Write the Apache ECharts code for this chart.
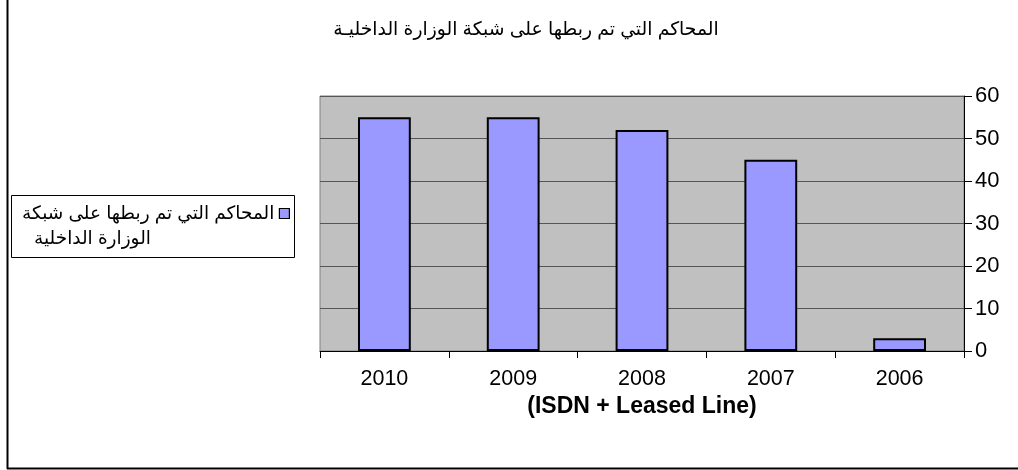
<!DOCTYPE html>
<html><head><meta charset="utf-8">
<script src="https://cdn.jsdelivr.net/npm/echarts@6/dist/echarts.min.js"></script>
<style>html,body{margin:0;padding:0;background:#fff}#c{width:1018px;height:470px}</style>
</head><body><div id="c"></div>
<script>
const titleText = 'المحاكم التي تم ربطها على شبكة الوزارة الداخليـة';
const seriesName = 'المحاكم التي تم ربطها على شبكة الوزارة الداخلية';
const legendLine1 = 'المحاكم التي تم ربطها على شبكة';
const legendLine2 = 'الوزارة الداخلية';
const categories = ['2010', '2009', '2008', '2007', '2006'];
const values = [55, 55, 52, 45, 3];
const xAxisName = '(ISDN + Leased Line)';
const yTicks = [0, 10, 20, 30, 40, 50, 60];

const chart = echarts.init(document.getElementById('c'), null, {renderer: 'canvas'});
const F = 'Arial, "Liberation Sans", "DejaVu Sans", sans-serif';
chart.setOption({
  animation: false,
  backgroundColor: '#fff',
  title: {
    text: titleText, left: 521, top: 15, textAlign: 'center',
    textStyle: {fontFamily: F, fontSize: 18.8, fontWeight: 'normal', color: '#000'}
  },
  legend: {
    orient: 'vertical', right: 728, top: 176, align: 'right', padding: 0,
    itemWidth: 10, itemHeight: 10,
    data: [{name: seriesName, icon: 'rect', itemStyle: {borderColor: '#000', borderWidth: 1.2}}],
    formatter: function () { return '{s| }\n{a|' + legendLine1 + '}\n{b|' + legendLine2 + '}'; },
    textStyle: {
      fontFamily: F, fontSize: 18.5, color: '#000', lineHeight: 25,
      rich: {
        s: {fontSize: 18.5, lineHeight: 25, align: 'left'},
        a: {fontFamily: F, fontSize: 18.5, lineHeight: 25, align: 'left', color: '#000'},
        b: {fontFamily: F, fontSize: 18.5, lineHeight: 25, align: 'left', color: '#000', padding: [0, 0, 0, 12]}
      }
    }
  },
  grid: {left: 320, right: 54, top: 96, bottom: 119, show: true,
    backgroundColor: '#c0c0c0', borderColor: '#808080', borderWidth: 1},
  xAxis: {
    type: 'category', data: categories,
    axisLine: {show: true, lineStyle: {color: '#000'}},
    axisTick: {show: true, length: 7, lineStyle: {color: '#000'}},
    axisLabel: {fontFamily: F, fontSize: 21.5, color: '#000', margin: 17},
    name: xAxisName, nameLocation: 'middle', nameGap: 42,
    nameTextStyle: {fontFamily: F, fontSize: 23, fontWeight: 'bold', color: '#000'}
  },
  yAxis: {
    type: 'value', position: 'right', min: yTicks[0], max: yTicks[yTicks.length - 1], interval: 10,
    axisLine: {show: true, lineStyle: {color: '#000'}},
    axisTick: {show: true, length: 8, lineStyle: {color: '#000'}},
    axisLabel: {fontFamily: F, fontSize: 22, color: '#000', margin: 11},
    splitLine: {show: true, lineStyle: {color: '#555', width: 1}}
  },
  series: [{
    name: seriesName, type: 'bar', data: values, barWidth: '41%',
    itemStyle: {color: '#9999ff', borderColor: '#000', borderWidth: 2}
  }],
  graphic: [
    {type: 'rect', shape: {x: 11.5, y: 195.5, width: 283, height: 62}, style: {fill: 'none', stroke: '#000', lineWidth: 1}},
    {type: 'line', shape: {x1: 7.5, y1: 0, x2: 7.5, y2: 469}, style: {stroke: '#000', lineWidth: 2}},
    {type: 'line', shape: {x1: 7, y1: 468.5, x2: 1018, y2: 468.5}, style: {stroke: '#000', lineWidth: 2}}
  ]
});
</script></body></html>
